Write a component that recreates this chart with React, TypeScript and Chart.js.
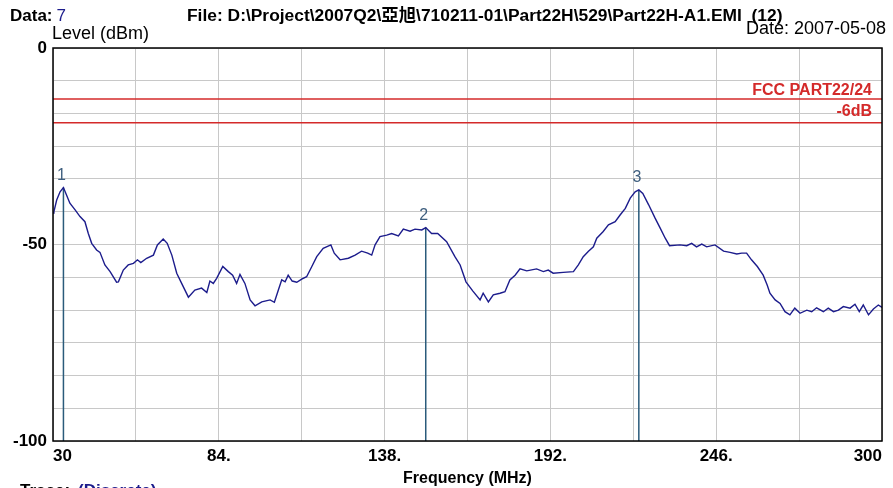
import React, { useEffect, useRef } from 'react';
import { Chart, registerables } from 'chart.js';

Chart.register(...registerables);

const FONT = '"Liberation Sans", Arial, "Noto Sans CJK TC", sans-serif';

// Trace (frequency MHz / level dBm)
const freqMHz = [
  30.0, 30.3, 31.2, 32.3, 33.4, 34.2, 35.5, 37.2, 38.8, 40.4, 41.5, 42.6, 44.2, 45.3, 46.9,
  48.6, 50.7, 51.3, 52.9, 54.5, 56.2, 57.5, 58.6, 60.5, 62.7, 64.0, 65.9, 67.2, 68.7, 70.3,
  71.9, 74.1, 76.2, 78.4, 80.1, 81.1, 82.2, 83.3, 85.3, 87.1, 88.5, 89.8, 90.9, 92.5, 94.2,
  95.8, 98.0, 100.7, 102.1, 103.4, 104.5, 105.6, 106.6, 107.9, 109.4, 111.0, 112.6, 114.3,
  115.9, 118.0, 120.5, 121.6, 123.5, 126.2, 128.4, 130.5, 132.5, 133.8, 134.9, 136.5, 138.7,
  140.3, 142.5, 144.1, 146.3, 147.9, 150.1, 151.4, 153.3, 155.3, 158.2, 160.9, 162.6, 164.5,
  166.7, 169.1, 170.1, 171.8, 173.4, 175.6, 177.2, 178.8, 180.5, 182.1, 184.3, 187.5, 189.7,
  191.3, 192.9, 196.2, 199.5, 201.1, 202.7, 204.4, 206.0, 207.1, 209.2, 210.9, 213.1, 214.7,
  216.4, 218.0, 219.6, 220.8, 222.1, 224.0, 226.1, 227.8, 229.4, 230.8, 234.2, 236.4, 238.0,
  239.6, 241.3, 242.9, 245.6, 248.4, 250.5, 252.7, 254.3, 255.9, 257.5, 259.4, 261.3, 262.6,
  263.5, 265.2, 266.8, 268.4, 270.0, 271.6, 273.3, 275.5, 277.1, 278.7, 280.9, 282.5, 284.2,
  285.8, 287.4, 289.6, 291.2, 292.6, 293.9, 295.6, 297.2, 298.8, 300.0,
];
const levelDbm = [
  -42.0, -41.6, -38.7, -36.6, -35.5, -37.0, -39.5, -41.2, -42.9, -44.2, -47.2, -49.7, -51.4, -52.0, -55.2,
  -56.9, -59.6, -59.5, -56.5, -55.2, -54.8, -53.9, -54.6, -53.5, -52.7, -50.1, -48.6, -49.7, -52.7, -57.3,
  -59.9, -63.4, -61.6, -61.1, -62.2, -59.3, -59.9, -58.6, -55.6, -56.9, -57.8, -59.9, -57.6, -59.9, -64.1,
  -65.6, -64.6, -64.1, -64.7, -61.6, -59.0, -59.5, -57.8, -59.3, -59.6, -58.8, -58.2, -55.6,
  -53.1, -51.0, -50.1, -52.2, -53.9, -53.5, -52.7, -51.7, -52.2, -52.7, -50.1, -48.0, -47.6,
  -47.2, -47.8, -46.1, -46.6, -46.1, -46.3, -45.7, -47.2, -47.2, -49.3, -53.1, -55.2, -59.5,
  -61.8, -64.1, -62.4, -64.6, -62.8, -62.4, -62.0, -59.0, -57.8, -56.2, -56.7, -56.2, -56.9,
  -56.5, -57.3, -57.1, -56.9, -55.2, -53.1, -51.7, -50.6, -48.4, -46.7, -45.0, -44.2, -42.5,
  -40.8, -38.2, -36.6, -36.1, -37.0, -39.9, -43.3, -45.9, -48.4, -50.3, -50.1, -50.3, -49.7,
  -50.6, -49.9, -50.6, -50.1, -51.7, -52.0, -52.4, -52.2, -52.2, -53.9, -55.6, -57.8, -60.3,
  -62.4, -64.1, -65.0, -67.1, -67.9, -66.2, -67.5, -66.7, -67.1, -66.1, -67.1, -66.2, -67.1,
  -66.7, -65.8, -66.2, -65.2, -67.1, -65.4, -67.9, -66.4, -65.4, -66.0,
];

// Limit lines
const limitNames = ['FCC PART22/24', '-6dB'];
const limitLevels = [-13, -19];

// Markers
const markerNames = ['1', '2', '3'];
const markerFreq = [33.4, 151.4, 220.8];
const markerLevel = [-35.5, -45.7, -36.1];

// Axes
const xGridMHz = [30, 57, 84, 111, 138, 165, 192, 219, 246, 273, 300];
const xTickLabels = ['30', '', '84.', '', '138.', '', '192.', '', '246.', '', '300'];
const yGridDbm = [-100, -91.67, -83.33, -75, -66.67, -58.33, -50, -41.67, -33.33, -25, -16.67, -8.33, 0];
const yTickLabels = ['-100', '', '', '', '', '', '-50', '', '', '', '', '', '0'];

const NAVY = '#1c1c8c';
const RED = '#d42a2a';
const MARKER = '#2b5b7b';

const overlay = {
  id: 'overlay',
  afterDraw(chart: any) {
    const ctx = chart.ctx;
    const { left, top, right, bottom } = chart.chartArea;
    const xs = chart.scales.x;
    const ys = chart.scales.y;
    ctx.save();
    ctx.strokeStyle = '#000';
    ctx.lineWidth = 1.5;
    ctx.strokeRect(left, top, right - left, bottom - top);

    ctx.textBaseline = 'alphabetic';
    ctx.textAlign = 'left';
    ctx.font = `bold 17px ${FONT}`;
    ctx.fillStyle = '#000';
    ctx.fillText('Data:', 10, 21);
    const w = ctx.measureText('Data:').width;
    ctx.fillStyle = NAVY;
    ctx.font = `17px ${FONT}`;
    ctx.fillText('7', 10 + w + 4, 21);

    ctx.fillStyle = '#000';
    ctx.font = `bold 17.4px ${FONT}`;
    ctx.fillText('File: D:\\Project\\2007Q2\\亞旭\\710211-01\\Part22H\\529\\Part22H-A1.EMI  (12)', 187, 21);

    ctx.font = `18px ${FONT}`;
    ctx.textAlign = 'right';
    ctx.fillText('Date: 2007-05-08', 886, 34);
    ctx.textAlign = 'left';
    ctx.fillText('Level (dBm)', 52, 39);

    ctx.font = `bold 17px ${FONT}`;
    ctx.fillText('Trace:', 20, 496);
    ctx.fillStyle = NAVY;
    ctx.fillText('(Discrete)', 78, 496);

    // limit labels
    ctx.fillStyle = RED;
    ctx.font = `bold 16px ${FONT}`;
    ctx.textAlign = 'right';
    ctx.textBaseline = 'middle';
    const xr = xs.getPixelForValue(300) - 10;
    ctx.fillText(limitNames[0], xr, ys.getPixelForValue(limitLevels[0]) - 8);
    ctx.fillText(limitNames[1], xr, ys.getPixelForValue(limitLevels[1]) - 11);

    // marker labels
    ctx.fillStyle = '#3f5f7f';
    ctx.font = `16px ${FONT}`;
    ctx.textAlign = 'center';
    markerNames.forEach((n, i) => {
      ctx.fillText(n, xs.getPixelForValue(markerFreq[i]) - 2, ys.getPixelForValue(markerLevel[i]) - 12);
    });
    ctx.restore();
  },
};

export default function App() {
  const ref = useRef<HTMLCanvasElement>(null);
  useEffect(() => {
    if (!ref.current) return;
    const datasets: any[] = [
      {
        data: freqMHz.map((f, i) => ({ x: f, y: levelDbm[i] })),
        borderColor: NAVY,
        borderWidth: 1.4,
        pointRadius: 0,
        tension: 0,
      },
      ...limitLevels.map((l) => ({
        data: [{ x: 30, y: l }, { x: 300, y: l }],
        borderColor: RED,
        borderWidth: 1.5,
        pointRadius: 0,
      })),
      ...markerFreq.map((f, i) => ({
        data: [{ x: f, y: markerLevel[i] }, { x: f, y: -100 }],
        borderColor: MARKER,
        borderWidth: 1.5,
        pointRadius: 0,
      })),
    ];
    const chart = new Chart(ref.current, {
      type: 'line',
      data: { datasets },
      options: {
        responsive: false,
        animation: false,
        events: [],
        layout: { padding: { left: 0, right: 11, top: 48, bottom: 0 } },
        plugins: { legend: { display: false }, tooltip: { enabled: false } },
        scales: {
          x: {
            type: 'linear',
            min: 30,
            max: 300,
            afterBuildTicks: (s: any) => {
              s.ticks = xGridMHz.map((v) => ({ value: v }));
            },
            afterFit: (s: any) => {
              s.height = 47;
            },
            grid: { color: '#c8c8c8', drawTicks: false, lineWidth: 1 },
            border: { display: false },
            ticks: {
              autoSkip: false,
              maxRotation: 0,
              align: 'inner',
              padding: 5,
              color: '#000',
              font: { family: FONT, size: 17, weight: 'bold' },
              callback: (_v: any, i: number) => xTickLabels[i],
            },
            title: {
              display: true,
              text: 'Frequency (MHz)',
              color: '#000',
              font: { family: FONT, size: 16, weight: 'bold' },
              padding: { top: 0, bottom: 0 },
            },
          },
          y: {
            type: 'linear',
            min: -100,
            max: 0,
            afterBuildTicks: (s: any) => {
              s.ticks = yGridDbm.map((v) => ({ value: v }));
            },
            afterFit: (s: any) => {
              s.width = 53;
            },
            grid: { color: '#c8c8c8', drawTicks: false, lineWidth: 1 },
            border: { display: false },
            ticks: {
              autoSkip: false,
              padding: 6,
              color: '#000',
              font: { family: FONT, size: 17, weight: 'bold' },
              callback: (_v: any, i: number) => yTickLabels[i],
            },
          },
        },
      } as any,
      plugins: [overlay],
    });
    return () => chart.destroy();
  }, []);
  return (
    <div style={{ position: 'absolute', left: 0, top: 0, width: 893, height: 488, background: '#fff' }}>
      <canvas ref={ref} width={893} height={488} />
    </div>
  );
}
